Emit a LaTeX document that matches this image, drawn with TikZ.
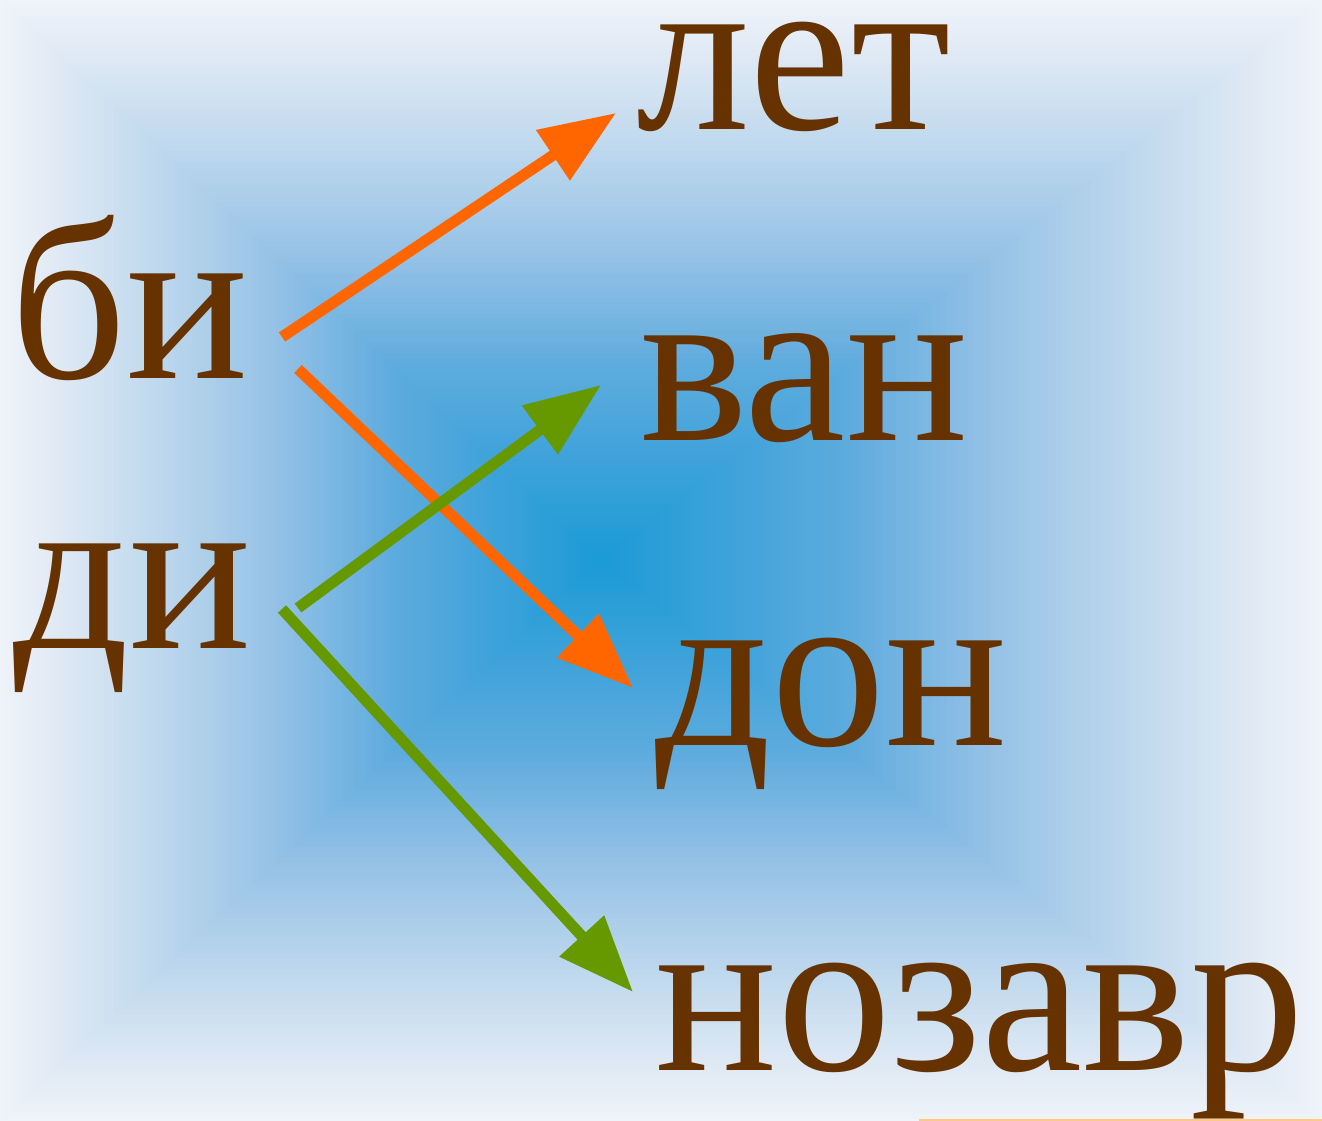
\documentclass[tikz,border=0pt]{standalone}
\usepackage{fontspec}
\setmainfont{Liberation Serif}
\usetikzlibrary{arrows.meta}
\definecolor{wordbrown}{HTML}{663300}
\definecolor{arrorange}{HTML}{FF6600}
\definecolor{arrgreen}{HTML}{669900}
\definecolor{bgA}{HTML}{EFF3FA}
\definecolor{bgB}{HTML}{E2EBF5}
\definecolor{bgC}{HTML}{C0D9EE}
\definecolor{bgD}{HTML}{96C2E6}
\definecolor{bgE}{HTML}{5EABDE}
\definecolor{bgF}{HTML}{38A1D9}
\definecolor{bgG}{HTML}{1A9AD6}
\definecolor{edgeline}{HTML}{FFC884}
\tikzset{
  word/.style={text=wordbrown, font=\fontsize{228}{270}\selectfont, anchor=base west, inner sep=0pt, text height=170pt, text depth=50pt},
  conn/.style={line width=11pt, -{Triangle[length=76pt,width=58pt]}},
  orangearrow/.style={conn, draw=arrorange, fill=arrorange},
  greenarrow/.style={conn, draw=arrgreen, fill=arrgreen}
}
\begin{document}
\begin{tikzpicture}[x=1pt,y=-1pt]
\useasboundingbox (0,0) rectangle (1322,1121);
% background rectangular gradient
\foreach \a/\b/\ca/\cb in {0/0.08/bgA/bgB, 0.08/0.25/bgB/bgC, 0.25/0.45/bgC/bgD, 0.45/0.65/bgD/bgE, 0.65/0.85/bgE/bgF, 0.85/1.0/bgF/bgG}{
  \foreach \k in {0,...,19}{
    \pgfmathsetmacro{\t}{\a+(\b-\a)*\k/20}
    \pgfmathsetmacro{\p}{100-100*\k/20}
    \fill[\ca!\p!\cb] ({600*\t},{560*\t}) rectangle ({1322-722*\t},{1121-561*\t});
  }
}
\draw[edgeline, line width=2pt] (919,1120) -- (1322,1120);
% words
\node[word] (bi) at (10,378) {би};
\node[word] (di) at (13,648) {ди};
\node[word, text height=112pt] (let) at (636,129) {лет};
\node[word] (van) at (640,440) {ван};
\node[word] (don) at (655,745) {дон};
\node[word, text depth=48pt] (nozavr) at (655,1070) {нозавр};
% connector ends
\coordinate (biA) at (282,337);
\coordinate (biB) at (298,369);
\coordinate (diA) at (298,608);
\coordinate (diB) at (282,609);
\coordinate (letT) at (616,113);
\coordinate (donT) at (633,688);
\coordinate (vanT) at (601,385);
\coordinate (nozT) at (633,992);
\draw[orangearrow] (biA) -- (letT);
\draw[orangearrow] (biB) -- (donT);
\draw[greenarrow] (diA) -- (vanT);
\draw[greenarrow] (diB) -- (nozT);
\end{tikzpicture}
\end{document}
